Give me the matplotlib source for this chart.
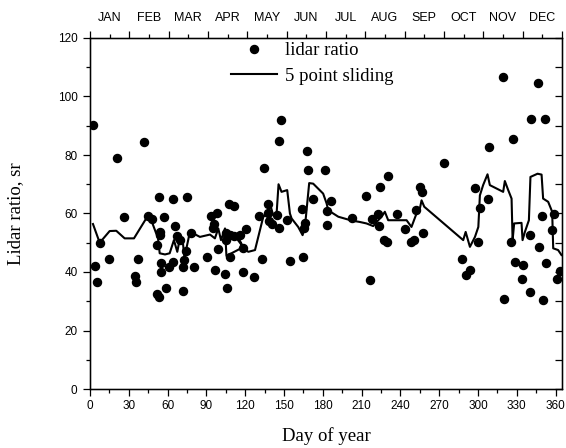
import matplotlib
matplotlib.use("Agg")
import matplotlib.pyplot as plt
from matplotlib.ticker import MultipleLocator, FixedLocator, NullFormatter, FixedFormatter

# ---- data: individual lidar-ratio measurements ----
day = [2.6, 20.9, 42, 147.6, 146.4, 134.6, 167.5, 168.8, 181.7, 53.6, 64.2, 74.7,
       107.4, 111.5, 137.9, 163.6, 172.6, 183, 26.5, 45, 47.6, 57.4, 93.3, 97.9,
       131, 144.3, 319.5, 346.6, 341.2, 351.8, 327.3, 308.5, 273.4, 230.6, 224.4,
       213.6, 255.5, 256.5, 297.6, 307.4, 186.6, 301.5, 251.8, 222.7, 218, 237.5,
       202.9, 349.4, 358.7,
       3.6, 5.7, 7.7, 14.9, 34.8, 35.8, 36.9, 53.8, 54.4, 52, 55.1, 54.6, 52, 53,
       58.8, 61, 63.9, 65.7, 67.5, 69.6, 74, 72.9, 72.1, 71.9, 78.1, 80.1, 90.7,
       95.6, 94.8, 98.7, 96.6, 104.6, 105.7, 104.8, 104.8, 108.5, 111.1, 108.5,
       116.2, 118.5, 118.5, 120.6, 126.8, 132.7, 137.9, 138.7, 141, 145.8, 152.3,
       154.6, 164.4, 166.4, 165.4, 183, 216.5, 223.4, 227.5, 229.8, 243.6, 248.3,
       250.5, 257.5, 287.6, 290.4, 293.7, 300.4, 320.5, 325.5, 329, 334.7, 334.2,
       340, 340.3, 347.5, 350.6, 352.4, 357.3, 361.4, 363.3]
ratio = [90.3, 78.9, 84.5, 91.8, 84.8, 75.7, 81.4, 74.8, 74.8, 65.5, 64.8, 65.5,
         63.2, 62.6, 63.4, 61.7, 64.8, 60.8, 58.9, 59, 58, 58.9, 59.1, 60,
         59.2, 59.4, 106.6, 104.5, 92.4, 92.4, 85.3, 82.7, 77.4, 72.8, 69.2,
         65.9, 69, 67.5, 68.7, 65.1, 64.2, 61.9, 61.1, 59.7, 58.1, 59.7,
         58.5, 59.1, 59.8,
         41.9, 36.5, 50, 44.3, 38.5, 36.5, 44.3, 53.7, 52.6, 49.1, 43, 40.1, 32.4, 31.6,
         34.4, 41.8, 43.3, 55.7, 52.4, 51.1, 47.3, 44.1, 41.8, 33.5, 53.5, 41.6, 45.2,
         56.3, 54.9, 47.9, 40.6, 39.4, 34.4, 53.4, 51.1, 52.8, 52.3, 45.2,
         52.8, 48.1, 40.1, 54.7, 38.2, 44.3, 60, 57.5, 56.4, 54.9, 57.7,
         43.7, 45.2, 56.8, 55.2, 56, 37.2, 55.7, 50.9, 50.2, 54.8, 50.2,
         50.9, 53.3, 44.4, 39, 40.7, 50.1, 30.8, 50.3, 43.3, 42.5, 37.6,
         52.8, 33.3, 48.6, 30.4, 43.1, 54.4, 37.7, 40.4]

# ---- data: 5 point sliding curve (in plotted order) ----
slide_day = [2.3, 7.5, 15.2, 20.3, 26.8, 34, 44.3, 47.4, 52.6, 53.9, 58, 61.6, 64.9,
             67.5, 69.6, 71.5, 73, 75, 77.3, 85, 92.8, 96.6, 99.2, 101.3, 104.4,
             105.5, 118.5, 110, 115, 119, 122.4, 127.6, 134, 137.9, 139.1, 141.7,
             144.3, 145.8, 148.1, 152.5, 154.6, 155.9, 161, 164.4, 166.2, 169.5,
             172.6, 180.3, 183, 184.2, 192, 202.2, 208.7, 213.8, 219, 222.9, 225.5,
             228, 230.6, 244.8, 248.6, 252.5, 255.1, 256.4, 258.5, 288.6, 290.5,
             293.8, 297.7, 300.3, 301.5, 304, 307.4, 309.2, 319.5, 320.8, 323.4,
             326, 326.8, 328, 333.7, 334.5, 336.3, 339.4, 340.6, 346.1, 349.2,
             350.4, 354.3, 357.4, 358.2, 362, 364.6]
slide_val = [56.4, 50, 54, 54.1, 51.5, 51.5, 58.9, 57.7, 51.5, 46.4, 46, 46.4, 50.9,
             46.9, 51.8, 51.5, 45, 49, 53.8, 52, 52.8, 51.5, 54.9, 50.9, 54.9,
             45.5, 48.5, 53.5, 51.5, 48, 46.9, 47.5, 58.9, 60, 63.4, 59.4,
             60, 70, 67.4, 68, 60, 58.3, 55.4, 52.6, 55.4, 70.4,
             70.2, 66.8, 63.4, 61.1, 58.9, 57.6, 57.1, 56.6, 55.7, 57.7, 58.9,
             60.6, 57.7, 57.7, 55.4, 60, 61.7, 64.5, 62.3, 50.9, 53.7,
             48.6, 52, 55.4, 66.2, 69.7, 73.4, 69.7, 67.4, 71.1, 68,
             65.1, 50.9, 56.6, 56.8, 50.9, 53.7, 57.7, 72.5, 73.6, 73.3,
             65.1, 64, 60.6, 48.1, 47.5, 45.8]

months = ["JAN", "FEB", "MAR", "APR", "MAY", "JUN", "JUL", "AUG", "SEP", "OCT", "NOV", "DEC"]

serif = ["Liberation Serif", "DejaVu Serif"]
sans = ["Liberation Sans", "DejaVu Sans"]

fig = plt.figure(figsize=(5.66, 4.48), dpi=100)
ax = fig.add_axes([90 / 566, 1 - 389 / 448, 472 / 566, 351 / 448])

ax.plot(day, ratio, "o", color="black", markersize=5.8, linestyle="none", label="lidar ratio")
ax.plot(slide_day, slide_val, "-", color="black", linewidth=1.5, label="5 point sliding")

ax.set_xlim(0, 365)
ax.set_ylim(0, 120)

ax.xaxis.set_major_locator(MultipleLocator(30))
ax.xaxis.set_minor_locator(MultipleLocator(15))
ax.yaxis.set_major_locator(MultipleLocator(20))
ax.yaxis.set_minor_locator(MultipleLocator(10))

ax.tick_params(axis="both", which="major", direction="out", length=5, width=0.9,
               labelsize=8.5, top=False, right=False)
ax.tick_params(axis="both", which="minor", direction="out", length=3, width=0.9,
               top=False, right=False)
ax.tick_params(axis="x", which="major", pad=3)
ax.tick_params(axis="y", which="major", pad=4)
for lab in ax.get_xticklabels() + ax.get_yticklabels():
    lab.set_family(sans)

for s in ax.spines.values():
    s.set_linewidth(1.0)

# right axis: inward ticks every 10
axr = ax.twinx()
axr.set_ylim(0, 120)
axr.yaxis.set_major_locator(MultipleLocator(10))
axr.tick_params(axis="y", which="major", direction="in", length=5, width=0.9, labelright=False)

# top axis: month boundaries and month names
axt = ax.twiny()
axt.set_xlim(0, 365)
bounds = [k * 365 / 12 for k in range(13)]
mids = [(k + 0.5) * 365 / 12 for k in range(12)]
axt.xaxis.set_major_locator(FixedLocator(bounds))
axt.xaxis.set_major_formatter(NullFormatter())
axt.xaxis.set_minor_locator(FixedLocator(mids))
axt.xaxis.set_minor_formatter(FixedFormatter(months))
axt.tick_params(axis="x", which="major", direction="out", length=5, width=0.9)
axt.tick_params(axis="x", which="minor", direction="out", length=3, width=0.9,
                labelsize=9, pad=7)
for lab in axt.get_xticklabels(minor=True):
    lab.set_family(sans)

ax.set_xlabel("Day of year", fontsize=13.5, family=serif, labelpad=10.5)
ax.set_ylabel("Lidar ratio, sr", fontsize=13.5, family=serif)
ax.yaxis.set_label_coords(-0.14, 0.5)

leg = ax.legend(loc="upper left", bbox_to_anchor=(231 / 566, 1 - 42 / 448),
                bbox_transform=fig.transFigure, frameon=False, numpoints=1,
                prop={"family": serif, "size": 13.5}, handlelength=2.45,
                handletextpad=0.45, borderpad=0, borderaxespad=0, labelspacing=0.45)

fig.savefig("out.png", dpi=100)
